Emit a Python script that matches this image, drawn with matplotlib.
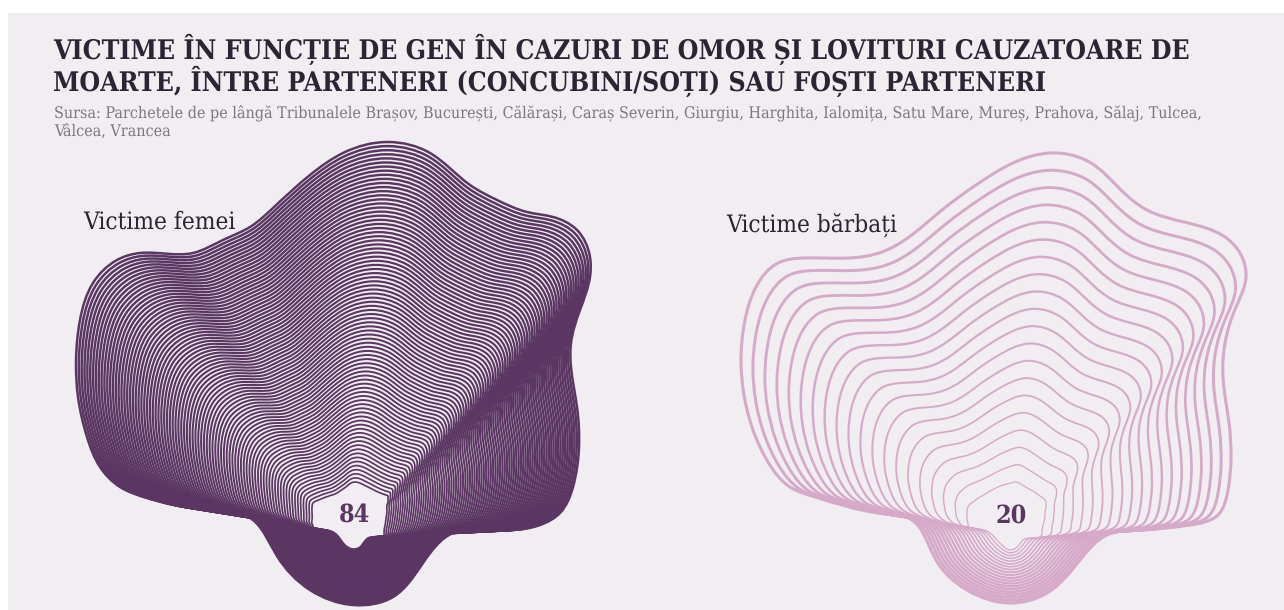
import numpy as np
import matplotlib
matplotlib.use("Agg")
import matplotlib.pyplot as plt
from matplotlib.path import Path
from matplotlib.patches import PathPatch, Rectangle

# Date
n_femei = 84
n_barbati = 20

femei_ext_x = [388, 430, 470, 497, 527, 553, 577, 590, 590, 580, 571, 571, 577, 579, 573, 560, 540, 490, 453, 423, 393, 353, 310, 277, 253, 193, 147, 120, 100, 87, 78, 76, 80, 93, 117, 140, 193, 223, 250, 273, 310, 343]
femei_ext_y = [142, 153, 185, 200, 212, 217, 230, 257, 277, 310, 343, 367, 407, 447, 487, 513, 525, 530, 533, 563, 597, 605, 590, 556, 520, 508, 498, 487, 467, 437, 397, 363, 320, 283, 260, 253, 253, 240, 227, 208, 175, 153]
femei_int_x = [355, 364, 372, 378, 383, 386, 388, 388, 388, 388, 388, 387, 387, 386, 385, 384, 384, 376, 368, 364, 360, 353, 345, 341, 337, 325, 313, 313, 312, 312, 312, 312, 313, 316, 321, 326, 332, 337, 340, 343, 347, 351]
femei_int_y = [482, 485, 489, 492, 494, 495, 496, 497, 498, 500, 502, 505, 510, 518, 526, 532, 535, 537, 538, 542, 547, 549, 545, 540, 535, 530, 527, 526, 524, 520, 512, 507, 503, 501, 499, 497, 495, 493, 491, 489, 486, 483]

barbati_ext_x = [1050, 1091, 1121, 1147, 1184, 1206, 1225, 1240, 1246, 1236, 1225, 1223, 1229, 1231, 1228, 1218, 1190, 1140, 1107, 1080, 1047, 1010, 967, 936, 912, 880, 815, 790, 768, 753, 744, 741, 745, 756, 778, 804, 849, 882, 909, 942, 979, 1013]
barbati_ext_y = [153, 163, 190, 210, 222, 228, 237, 253, 277, 307, 343, 377, 423, 460, 490, 515, 525, 530, 535, 560, 593, 603, 590, 560, 520, 513, 497, 487, 462, 430, 395, 363, 320, 287, 263, 258, 258, 252, 237, 210, 183, 163]
barbati_int_x = [1015, 1024, 1031, 1036, 1040, 1043, 1045, 1046, 1046, 1046, 1045, 1045, 1044, 1043, 1042, 1042, 1041, 1032, 1023, 1019, 1016, 1010, 1003, 997, 990, 979, 968, 968, 967, 967, 967, 968, 970, 973, 977, 982, 987, 992, 998, 1003, 1007, 1011]
barbati_int_y = [482, 486, 490, 493, 496, 498, 500, 502, 505, 508, 512, 516, 521, 526, 531, 534, 536, 538, 540, 545, 548, 550, 546, 540, 533, 529, 525, 523, 520, 516, 512, 507, 504, 502, 499, 496, 493, 490, 487, 485, 484, 483]

titlu = "VICTIME ÎN FUNCȚIE DE GEN ÎN CAZURI DE OMOR ȘI LOVITURI CAUZATOARE DE\nMOARTE, ÎNTRE PARTENERI (CONCUBINI/SOȚI) SAU FOȘTI PARTENERI"
sursa = "Sursa: Parchetele de pe lângă Tribunalele Brașov, București, Călărași, Caraș Severin, Giurgiu, Harghita, Ialomița, Satu Mare, Mureș, Prahova, Sălaj, Tulcea,\nVâlcea, Vrancea"

plt.rcParams["font.family"] = ["DejaVu Serif", "Liberation Serif"]
plt.rcParams["font.stretch"] = "condensed"
plt.rcParams["text.hinting"] = "none"

def contur(x, y):
    # spline cubic periodic dupa lungimea coardei, transformat in bezier
    p = np.column_stack([x, y]).astype(float)
    n = len(p)
    h = np.hypot(*(np.roll(p, -1, axis=0) - p).T)
    A = np.zeros((n, n))
    b = np.zeros((n, 2))
    for i in range(n):
        j = (i + 1) % n
        A[i, i] = 2 * (h[i - 1] + h[i])
        A[i, i - 1] = h[i]
        A[i, j] = h[i - 1]
        b[i] = 3 * (h[i] * (p[i] - p[i - 1]) / h[i - 1] + h[i - 1] * (p[j] - p[i]) / h[i])
    d = np.linalg.solve(A, b)
    verts = [p[0]]
    codes = [Path.MOVETO]
    for i in range(n):
        j = (i + 1) % n
        verts += [p[i] + d[i] * h[i] / 3, p[j] - d[j] * h[i] / 3, p[j]]
        codes += [Path.CURVE4] * 3
    return Path(verts, codes)

def deseneaza(ax, ext_x, ext_y, int_x, int_y, n, culoare, lw_ext, lw_int):
    ext_x, ext_y = np.array(ext_x), np.array(ext_y)
    int_x, int_y = np.array(int_x), np.array(int_y)
    for i in range(n):
        t = i / (n - 1)
        x = ext_x + (int_x - ext_x) * t
        y = ext_y + (int_y - ext_y) * t
        lw = lw_ext + (lw_int - lw_ext) * t
        ax.add_patch(PathPatch(contur(x, y), fill=False, edgecolor=culoare, lw=lw))

fig = plt.figure(figsize=(12.84, 6.10), dpi=100, facecolor="white")
ax = fig.add_axes([0, 0, 1, 1])
ax.set_xlim(0, 1284)
ax.set_ylim(610, 0)
ax.axis("off")
ax.add_patch(Rectangle((8, 13), 1276, 597, facecolor="#f0eef1", edgecolor="none"))

deseneaza(ax, femei_ext_x, femei_ext_y, femei_int_x, femei_int_y, n_femei, "#5b3663", 1.8, 1.2)
deseneaza(ax, barbati_ext_x, barbati_ext_y, barbati_int_x, barbati_int_y, n_barbati, "#d6a9c8", 2.2, 0.9)

ax.text(53, 65, titlu, fontsize=19.1, fontweight="bold", color="#2a2433", va="center", linespacing=1.02)
ax.text(54, 122, sursa, fontsize=11.55, color="#7b7782", va="center", linespacing=1.12)
ax.text(83, 222, "Victime femei", fontsize=17.5, color="#2a2433", va="center")
ax.text(726, 226, "Victime bărbați", fontsize=17.5, color="#2a2433", va="center")
ax.text(354, 515, str(n_femei), fontsize=18, fontweight="bold", color="#5b3663", ha="center", va="center")
ax.text(1011, 516, str(n_barbati), fontsize=18, fontweight="bold", color="#5b3663", ha="center", va="center")

fig.savefig("out.png", dpi=100)
